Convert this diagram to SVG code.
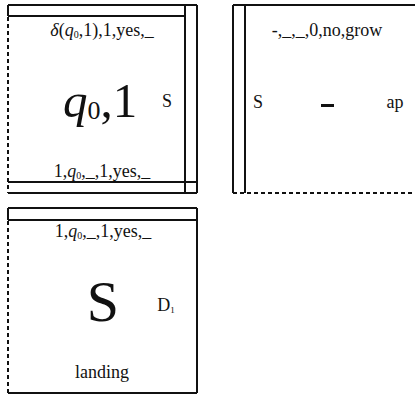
<svg xmlns="http://www.w3.org/2000/svg" width="415" height="398" viewBox="0 0 415 398">
<style>
.ln{stroke:#111;stroke-width:2;fill:none}
.dl{stroke:#111;stroke-width:2;fill:none;stroke-dasharray:4 3}
text{font-family:"Liberation Serif","Times New Roman",serif;fill:#111;text-anchor:middle}
.sm{font-size:18px}
.it{font-style:italic}
</style>
<rect width="415" height="398" fill="#fff"/>
<g id="tile1">
<path class="ln" d="M8,5H197M8,5V16M8,16H185M185,5V193M197,5V193M8,182H197M8,193H197"/>
<path class="dl" d="M8,17V193"/>
<text class="sm" x="102" y="36"><tspan class="it">δ</tspan>(<tspan class="it">q</tspan><tspan font-size="10" dy="2">0</tspan><tspan dy="-2">,1),1,yes,_</tspan></text>
<text x="100" y="117" font-size="49"><tspan class="it">q</tspan><tspan font-size="26" dy="2">0</tspan><tspan dy="-2">,1</tspan></text>
<text class="sm" x="167" y="107">S</text>
<text class="sm" x="102" y="177">1,<tspan class="it">q</tspan><tspan font-size="10" dy="2">0</tspan><tspan dy="-2">,_,1,yes,_</tspan></text>
</g>
<g id="tile2">
<path class="ln" d="M233,5H415M233,5V193M245,5V193"/>
<path class="dl" d="M233,193H415"/>
<text class="sm" x="327" y="36">-,_,_,0,no,grow</text>
<text class="sm" x="258" y="108">S</text>
<rect x="321" y="104" width="13" height="3" fill="#111"/>
<text class="sm" x="395" y="108">ap</text>
</g>
<g id="tile3">
<path class="ln" d="M8,208H197M8,208V220M8,220H197M197,208V393M8,393H197"/>
<path class="dl" d="M8,221V393"/>
<text class="sm" x="103" y="237">1,<tspan class="it">q</tspan><tspan font-size="10" dy="2">0</tspan><tspan dy="-2">,_,1,yes,_</tspan></text>
<text x="103" y="321" font-size="58">S</text>
<text class="sm" x="166" y="311">D<tspan font-size="9" dy="2">1</tspan></text>
<text class="sm" x="102" y="378">landing</text>
</g>
</svg>
